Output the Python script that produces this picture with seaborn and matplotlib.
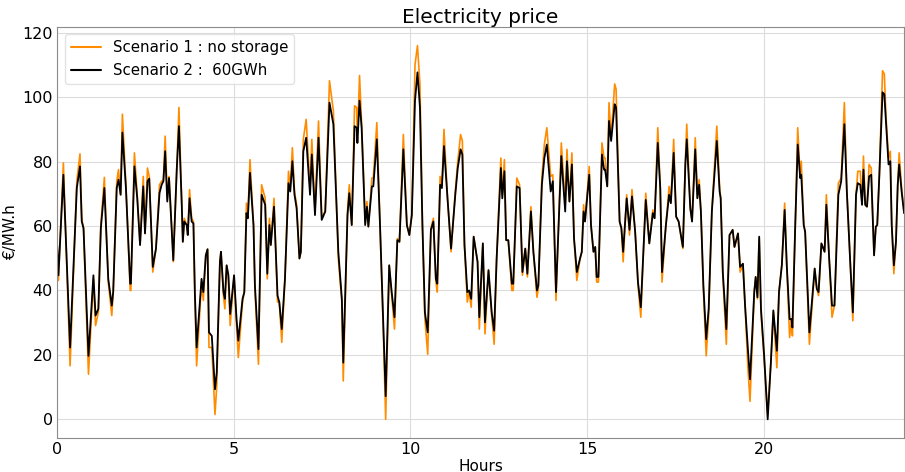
import matplotlib
matplotlib.use("Agg")
import matplotlib.pyplot as plt
import seaborn as sns
import pandas as pd

hours = [
    0.00, 0.04, 0.18, 0.37, 0.56, 0.65, 0.70, 0.75, 0.89, 1.03, 1.09, 1.17, 1.24, 1.34, 1.45, 1.55,
    1.59, 1.69, 1.74, 1.80, 1.85, 1.95, 2.07, 2.09, 2.19, 2.27, 2.35, 2.44, 2.49, 2.56, 2.61, 2.71,
    2.80, 2.90, 2.96, 3.01, 3.06, 3.12, 3.17, 3.25, 3.29, 3.39, 3.45, 3.53, 3.56, 3.60, 3.67, 3.70,
    3.75, 3.81, 3.86, 3.90, 3.95, 4.09, 4.14, 4.21, 4.26, 4.30, 4.38, 4.47, 4.52, 4.61, 4.64, 4.71,
    4.75, 4.80, 4.85, 4.90, 5.01, 5.08, 5.13, 5.25, 5.30, 5.36, 5.40, 5.46, 5.56, 5.60, 5.70, 5.79,
    5.89, 5.95, 6.01, 6.05, 6.14, 6.24, 6.29, 6.36, 6.45, 6.55, 6.60, 6.66, 6.72, 6.78, 6.86, 6.90,
    6.97, 7.05, 7.16, 7.21, 7.30, 7.40, 7.49, 7.59, 7.71, 7.82, 7.96, 8.06, 8.10, 8.22, 8.27, 8.34,
    8.42, 8.48, 8.50, 8.56, 8.62, 8.72, 8.77, 8.81, 8.91, 8.95, 9.05, 9.14, 9.24, 9.30, 9.40, 9.47,
    9.55, 9.63, 9.69, 9.80, 9.90, 9.97, 10.04, 10.13, 10.20, 10.27, 10.34, 10.41, 10.49, 10.58, 10.65, 10.72,
    10.76, 10.84, 10.89, 10.95, 11.05, 11.15, 11.27, 11.34, 11.42, 11.47, 11.53, 11.61, 11.66, 11.72, 11.79, 11.90,
    11.95, 12.05, 12.11, 12.21, 12.30, 12.37, 12.44, 12.56, 12.60, 12.66, 12.71, 12.77, 12.87, 12.91, 13.01, 13.09,
    13.17, 13.25, 13.31, 13.41, 13.48, 13.58, 13.62, 13.72, 13.79, 13.86, 13.97, 14.03, 14.12, 14.27, 14.38, 14.43,
    14.50, 14.57, 14.63, 14.71, 14.80, 14.85, 14.90, 14.94, 15.06, 15.11, 15.18, 15.23, 15.27, 15.32, 15.42, 15.48,
    15.51, 15.57, 15.62, 15.68, 15.78, 15.82, 15.92, 15.97, 16.02, 16.12, 16.20, 16.27, 16.36, 16.44, 16.52, 16.66,
    16.76, 16.86, 16.91, 17.00, 17.07, 17.12, 17.23, 17.32, 17.37, 17.45, 17.52, 17.59, 17.71, 17.78, 17.82, 17.92,
    17.97, 18.06, 18.12, 18.17, 18.22, 18.29, 18.37, 18.44, 18.53, 18.67, 18.75, 18.78, 18.84, 18.94, 19.03, 19.12,
    19.17, 19.27, 19.33, 19.41, 19.47, 19.55, 19.61, 19.73, 19.77, 19.82, 19.87, 19.92, 20.01, 20.11, 20.20, 20.27,
    20.37, 20.43, 20.51, 20.59, 20.65, 20.73, 20.78, 20.81, 20.89, 20.96, 21.03, 21.06, 21.13, 21.17, 21.29, 21.44,
    21.50, 21.55, 21.63, 21.72, 21.77, 21.85, 21.93, 22.00, 22.11, 22.19, 22.28, 22.35, 22.45, 22.52, 22.61, 22.66,
    22.73, 22.78, 22.82, 22.87, 22.92, 22.98, 23.04, 23.12, 23.17, 23.21, 23.27, 23.36, 23.41, 23.46, 23.53, 23.58,
    23.62, 23.68, 23.74, 23.79, 23.83, 23.90, 23.97,
]

# Scenario 2 : 60 GWh of storage
price_storage = [
    55.0, 44.7, 75.9, 22.3, 71.8, 78.5, 61.4, 59.3, 19.7, 44.7, 32.2, 34.3, 59.3, 71.8, 43.6, 35.3,
    39.5, 71.8, 74.4, 69.7, 89.0, 71.8, 42.1, 42.1, 78.5, 68.6, 54.1, 72.3, 57.7, 73.9, 74.7, 47.3,
    53.0, 70.2, 72.8, 73.9, 83.2, 67.6, 74.9, 58.2, 49.4, 78.0, 91.0, 66.6, 55.1, 61.4, 60.3, 57.2,
    68.6, 61.4, 60.8, 39.5, 22.3, 43.6, 39.5, 50.9, 52.8, 27.0, 25.9, 9.3, 14.5, 48.9, 52.0, 39.5,
    37.4, 47.8, 44.7, 32.7, 44.7, 31.1, 24.4, 37.4, 39.5, 64.0, 62.4, 76.5, 60.3, 41.6, 21.8, 69.7,
    66.6, 45.2, 60.3, 54.1, 66.0, 38.4, 36.4, 28.0, 43.6, 73.3, 70.7, 80.1, 69.7, 65.5, 49.9, 52.0,
    83.2, 87.4, 69.7, 82.2, 63.4, 87.4, 61.9, 64.5, 98.3, 91.6, 52.0, 37.4, 17.6, 63.4, 70.2, 60.3,
    91.0, 90.5, 85.8, 98.9, 90.5, 60.3, 66.0, 59.8, 72.3, 72.3, 86.9, 60.3, 27.0, 7.2, 47.8, 39.5,
    31.7, 55.6, 55.1, 83.8, 60.3, 57.2, 63.4, 98.9, 107.7, 96.8, 60.3, 33.2, 27.0, 58.8, 61.4, 43.6,
    42.1, 72.8, 71.8, 84.8, 68.6, 53.0, 69.7, 78.0, 83.8, 82.2, 54.1, 39.5, 40.0, 37.4, 56.7, 48.9,
    31.7, 54.6, 30.1, 46.3, 33.2, 27.5, 49.9, 78.0, 68.6, 77.0, 55.6, 55.6, 42.1, 42.1, 72.3, 71.8,
    45.7, 53.0, 45.2, 64.5, 52.0, 40.0, 41.6, 72.8, 81.1, 85.3, 70.7, 73.9, 39.5, 81.7, 64.5, 80.1,
    67.6, 79.1, 56.1, 45.7, 49.9, 52.0, 64.5, 61.4, 75.9, 60.3, 52.0, 53.5, 44.2, 44.2, 82.2, 77.5,
    77.5, 72.3, 92.6, 86.4, 97.8, 96.8, 61.4, 59.3, 52.0, 68.6, 58.8, 69.2, 58.2, 42.6, 34.8, 68.1,
    54.6, 64.0, 62.4, 85.8, 71.8, 45.7, 60.3, 69.7, 67.1, 82.7, 62.9, 61.4, 53.5, 79.1, 86.9, 65.5,
    61.4, 83.8, 68.6, 72.8, 64.5, 41.6, 24.9, 34.3, 64.5, 86.4, 70.7, 68.6, 45.7, 28.0, 57.2, 58.8,
    53.5, 57.7, 47.3, 48.3, 35.3, 21.8, 12.4, 39.5, 44.2, 37.9, 56.7, 34.3, 19.7, 0.0, 17.6, 33.8,
    21.3, 39.5, 47.8, 65.0, 47.8, 31.1, 31.1, 28.5, 60.3, 85.3, 74.9, 75.9, 60.3, 58.2, 27.0, 46.8,
    40.5, 39.5, 54.6, 52.0, 66.6, 49.9, 35.3, 35.3, 69.7, 73.9, 91.6, 70.7, 47.8, 33.2, 69.7, 73.3,
    72.8, 66.6, 77.5, 66.6, 66.0, 75.4, 75.9, 50.9, 59.8, 60.3, 75.9, 101.5, 100.9, 91.6, 79.1, 80.1,
    60.3, 47.8, 55.1, 72.8, 79.1, 70.7, 64.0,
]

# Scenario 1 : no storage
price_no_storage = [
    55.0, 43.1, 79.6, 16.6, 73.9, 82.4, 62.4, 59.3, 14.0, 43.6, 29.1, 33.2, 60.3, 75.1, 42.6, 32.2,
    39.5, 73.9, 77.5, 69.7, 94.7, 72.8, 40.0, 40.0, 82.7, 69.7, 54.1, 75.4, 57.7, 78.0, 75.4, 45.7,
    53.0, 72.8, 73.9, 74.4, 87.9, 68.6, 75.4, 58.2, 48.9, 78.0, 96.8, 66.6, 55.1, 62.4, 60.3, 57.2,
    71.3, 62.4, 61.4, 39.5, 16.6, 42.6, 36.9, 50.9, 52.8, 22.3, 22.3, 1.5, 10.3, 49.4, 52.0, 38.4,
    34.3, 47.8, 43.6, 29.1, 44.7, 29.1, 19.2, 36.4, 39.5, 67.1, 62.4, 80.6, 60.3, 40.5, 17.1, 72.8,
    68.6, 43.6, 62.4, 54.1, 68.6, 36.4, 36.4, 23.9, 43.6, 77.0, 71.8, 84.3, 70.7, 66.6, 49.9, 52.0,
    86.9, 93.1, 71.8, 86.9, 64.5, 92.6, 62.9, 64.5, 105.1, 95.7, 49.9, 36.4, 11.9, 64.5, 72.8, 60.3,
    97.3, 96.8, 85.8, 106.7, 91.6, 61.4, 67.6, 59.8, 74.9, 74.9, 92.1, 60.3, 24.9, 0.0, 47.8, 38.4,
    28.0, 56.1, 55.1, 88.4, 60.3, 57.2, 63.4, 110.0, 116.0, 104.0, 60.3, 31.1, 20.2, 59.3, 62.4, 42.6,
    39.5, 75.4, 71.8, 90.0, 68.6, 52.0, 70.7, 80.1, 88.4, 86.4, 54.1, 36.4, 39.5, 34.8, 56.7, 48.9,
    28.0, 54.6, 26.5, 46.3, 32.2, 23.3, 49.9, 81.1, 69.7, 80.6, 55.6, 55.6, 40.0, 40.0, 74.9, 72.8,
    44.7, 53.0, 44.2, 66.0, 52.0, 37.9, 40.5, 74.9, 85.3, 90.5, 75.4, 75.9, 36.9, 85.8, 66.6, 83.8,
    67.6, 82.7, 56.1, 43.1, 49.9, 52.0, 66.6, 61.4, 78.5, 60.3, 52.0, 53.5, 42.6, 42.6, 85.8, 81.1,
    81.1, 72.3, 98.3, 87.4, 104.1, 102.5, 61.4, 59.3, 48.9, 69.7, 57.2, 71.3, 58.2, 41.6, 31.7, 70.2,
    54.6, 65.0, 62.4, 90.5, 71.8, 42.6, 60.3, 72.3, 67.1, 86.9, 62.9, 61.4, 53.0, 80.1, 91.6, 65.5,
    61.4, 87.4, 68.6, 74.4, 64.5, 40.5, 19.7, 32.2, 64.5, 91.0, 71.8, 68.6, 44.7, 23.3, 57.2, 58.8,
    53.5, 57.7, 45.7, 48.3, 35.3, 16.0, 5.6, 39.5, 44.2, 37.4, 56.1, 33.2, 18.6, 1.5, 17.6, 33.2,
    16.0, 39.5, 47.8, 67.1, 47.8, 25.4, 31.1, 25.9, 60.3, 90.5, 74.9, 80.1, 60.3, 58.2, 23.3, 46.8,
    40.5, 38.4, 54.6, 52.0, 69.7, 49.9, 31.7, 35.3, 73.3, 74.9, 98.3, 70.7, 47.8, 30.6, 69.7, 77.0,
    77.0, 66.6, 81.7, 66.6, 66.0, 79.1, 78.0, 50.9, 59.8, 60.3, 75.9, 108.2, 107.2, 93.6, 81.1, 83.2,
    60.3, 45.2, 55.1, 72.8, 82.7, 71.8, 64.0,
]

df = pd.DataFrame({
    "Hours": hours,
    "no_storage": price_no_storage,
    "storage": price_storage,
})

sns.set_style("whitegrid", {
    "axes.edgecolor": "#8c8c8c",
    "grid.color": "#dcdcdc",
    "axes.linewidth": 1.0,
    "text.color": "black",
    "axes.labelcolor": "black",
    "xtick.color": "black",
    "ytick.color": "black",
})
plt.rcParams["font.family"] = ["DejaVu Sans"]

fig = plt.figure(figsize=(9.05, 4.72), dpi=100)
ax = fig.add_axes([0.063, 0.072, 0.936, 0.871])

sns.lineplot(data=df, x="Hours", y="no_storage", ax=ax, color="#ff8c00",
             linewidth=1.2, label="Scenario 1 : no storage", sort=False, estimator=None)
sns.lineplot(data=df, x="Hours", y="storage", ax=ax, color="black",
             linewidth=1.3, label="Scenario 2 :  60GWh", sort=False, estimator=None)

ax.set_xlim(hours[0], hours[-1])
ax.margins(y=0.05)
ax.set_xticks([0, 5, 10, 15, 20])
ax.set_yticks([0, 20, 40, 60, 80, 100, 120])
ax.tick_params(axis="both", length=0, labelsize=11.5, pad=3, labelcolor="black")
ax.set_xlabel("Hours", fontsize=11, labelpad=1, color="black")
ax.set_ylabel("€/MW.h", fontsize=11, labelpad=3, color="black")
ax.set_title("Electricity price", fontsize=14.5, pad=3, color="black")

leg = ax.legend(loc="upper left", fontsize=10.8, frameon=True, borderaxespad=0.5)
leg.get_frame().set_edgecolor("#dddddd")
for text in leg.get_texts():
    text.set_color("black")
for line in leg.get_lines():
    line.set_linewidth(1.5)

fig.savefig("out.png", dpi=100)
